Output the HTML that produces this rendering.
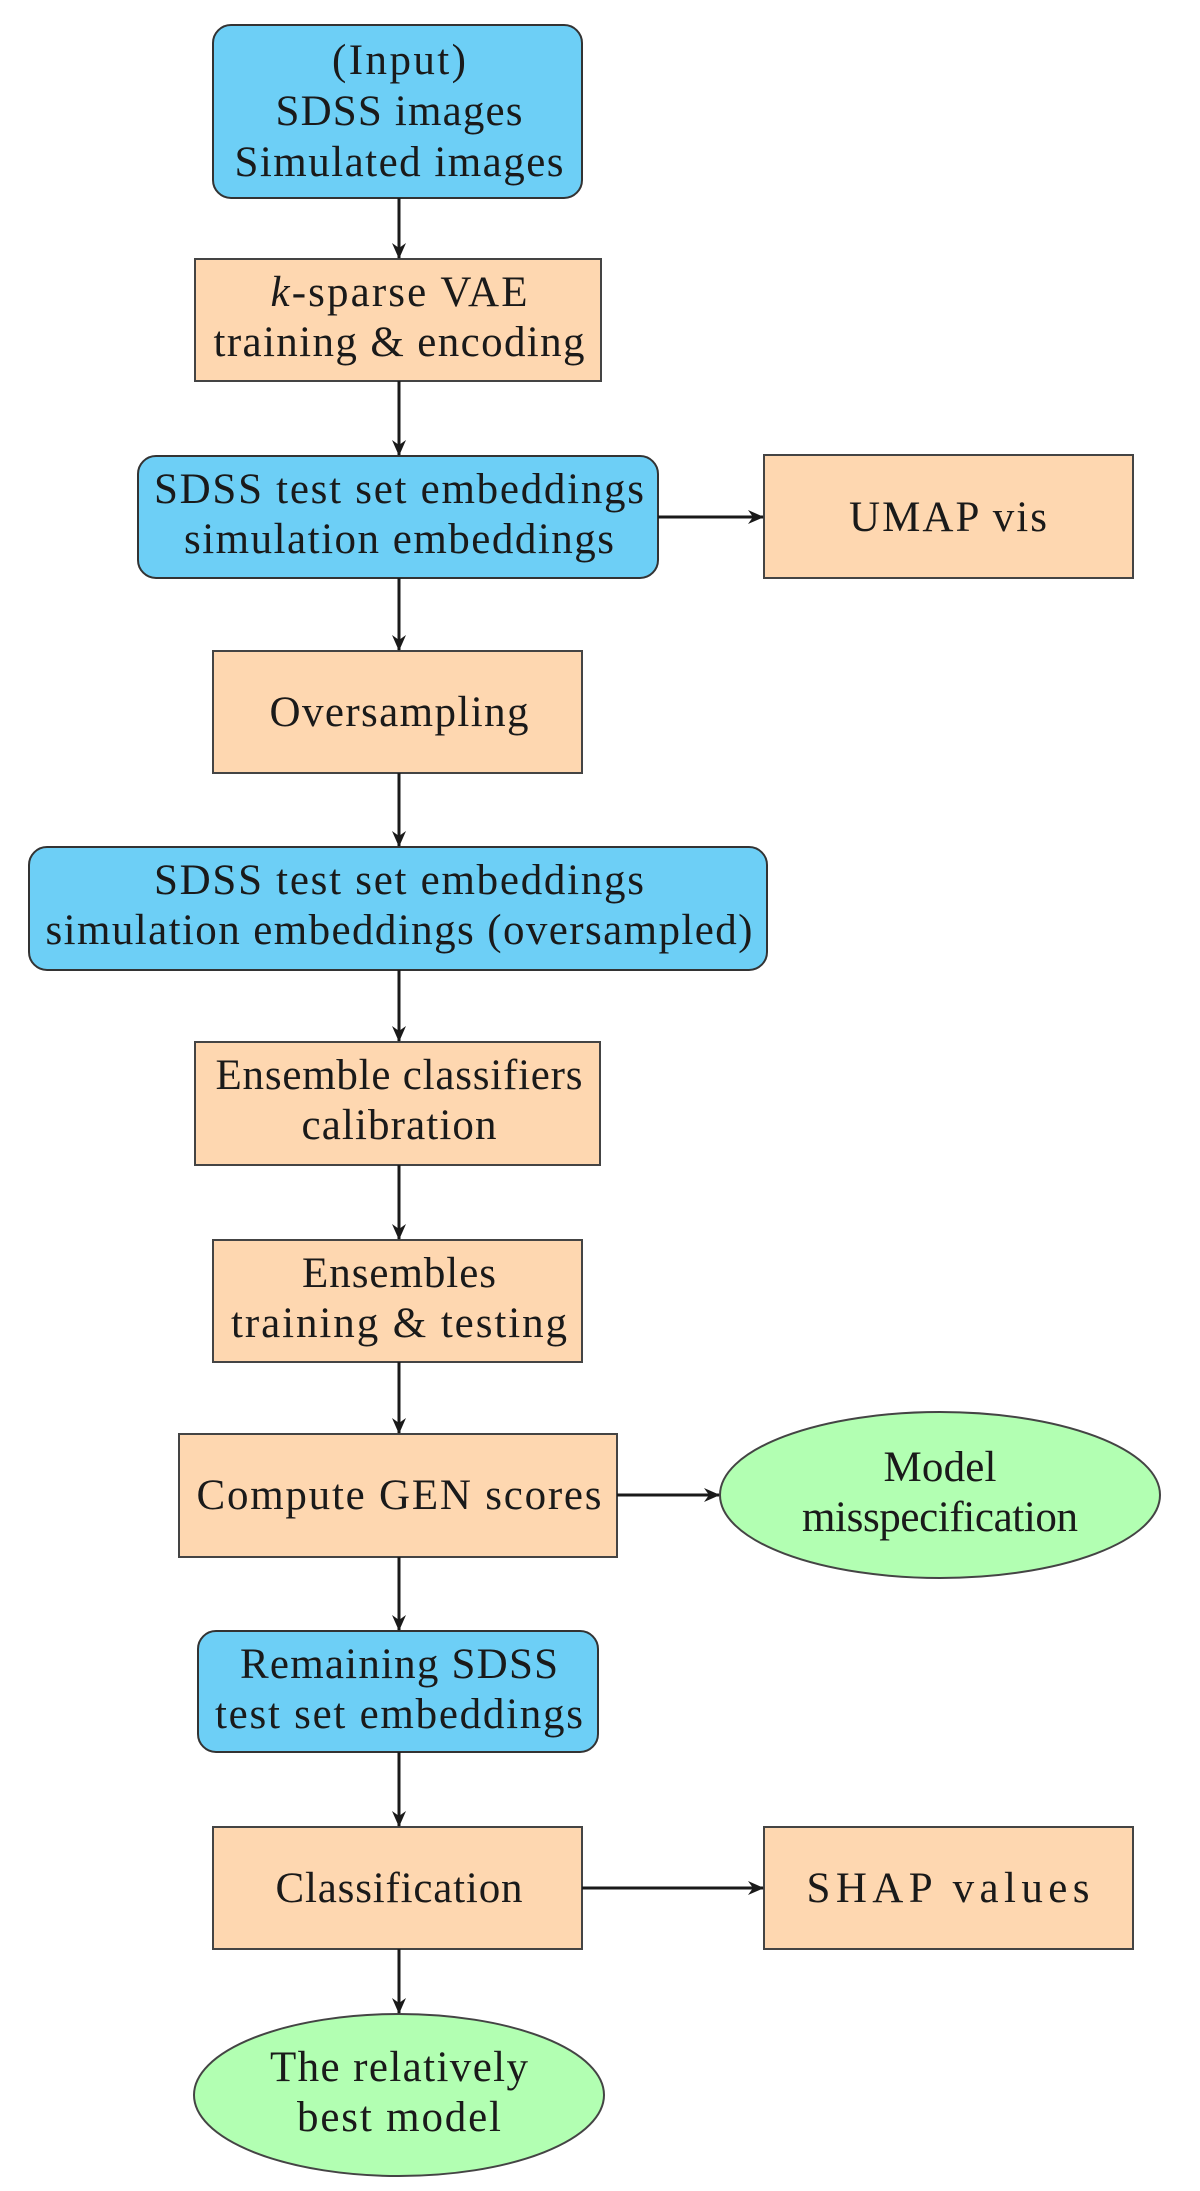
<!DOCTYPE html>
<html><head><meta charset="utf-8"><style>
html,body{margin:0;padding:0;background:#fff}
svg{display:block}
text{font-family:"Liberation Serif",serif;font-size:43px;fill:#1a1a1a;text-anchor:middle}
.b{fill:#6dcff6;stroke:#333;stroke-width:2}
.o{fill:#fed7b0;stroke:#444;stroke-width:2}
.g{fill:#b2ffb2;stroke:#444;stroke-width:2}
.l{stroke:#1a1a1a;stroke-width:3;fill:none}
</style></head><body>
<svg width="1200" height="2191" viewBox="0 0 1200 2191" xmlns="http://www.w3.org/2000/svg">
<defs><marker id="a" markerWidth="16" markerHeight="16" refX="15" refY="8" orient="auto" markerUnits="userSpaceOnUse"><path d="M0,1 L16,8 L0,15 L5,8 Z" fill="#1a1a1a"/></marker></defs>

<rect class="b" x="213" y="25" width="369" height="173" rx="18"/>
<text x="399" y="74" textLength="134">(Input)</text>
<text x="399" y="125" textLength="247">SDSS images</text>
<text x="399" y="176" textLength="329">Simulated images</text>

<rect class="o" x="195" y="259" width="406" height="122"/>
<text x="399" y="306" textLength="257"><tspan font-style="italic">k</tspan>-sparse VAE</text>
<text x="399" y="356" textLength="371">training &amp; encoding</text>

<rect class="b" x="138" y="456" width="520" height="122" rx="18"/>
<text x="399" y="503" textLength="490">SDSS test set embeddings</text>
<text x="399" y="553" textLength="430">simulation embeddings</text>

<rect class="o" x="764" y="455" width="369" height="123"/>
<text x="948" y="531" textLength="198">UMAP vis</text>

<rect class="o" x="213" y="651" width="369" height="122"/>
<text x="399" y="726" textLength="259">Oversampling</text>

<rect class="b" x="29" y="847" width="738" height="123" rx="18"/>
<text x="399" y="894" textLength="490">SDSS test set embeddings</text>
<text x="399" y="944" textLength="707">simulation embeddings (oversampled)</text>

<rect class="o" x="195" y="1042" width="405" height="123"/>
<text x="399" y="1089" textLength="367">Ensemble classifiers</text>
<text x="399" y="1139" textLength="195">calibration</text>

<rect class="o" x="213" y="1240" width="369" height="122"/>
<text x="399" y="1287" textLength="194">Ensembles</text>
<text x="399" y="1337" textLength="336">training &amp; testing</text>

<rect class="o" x="179" y="1434" width="438" height="123"/>
<text x="399" y="1509" textLength="405">Compute GEN scores</text>

<ellipse class="g" cx="940" cy="1495" rx="220" ry="83"/>
<text x="940" y="1481" textLength="113">Model</text>
<text x="940" y="1531" textLength="276">misspecification</text>

<rect class="b" x="198" y="1631" width="400" height="121" rx="18"/>
<text x="399" y="1678" textLength="318">Remaining SDSS</text>
<text x="399" y="1728" textLength="368">test set embeddings</text>

<rect class="o" x="213" y="1827" width="369" height="122"/>
<text x="399" y="1902" textLength="247">Classification</text>

<rect class="o" x="764" y="1827" width="369" height="122"/>
<text x="948" y="1902" textLength="283">SHAP values</text>

<ellipse class="g" cx="399" cy="2095" rx="205" ry="81"/>
<text x="399" y="2081" textLength="258">The relatively</text>
<text x="399" y="2131" textLength="204">best model</text>

<line class="l" x1="399" y1="198" x2="399" y2="258" marker-end="url(#a)"/>
<line class="l" x1="399" y1="381" x2="399" y2="455" marker-end="url(#a)"/>
<line class="l" x1="399" y1="578" x2="399" y2="650" marker-end="url(#a)"/>
<line class="l" x1="399" y1="773" x2="399" y2="846" marker-end="url(#a)"/>
<line class="l" x1="399" y1="970" x2="399" y2="1041" marker-end="url(#a)"/>
<line class="l" x1="399" y1="1165" x2="399" y2="1239" marker-end="url(#a)"/>
<line class="l" x1="399" y1="1362" x2="399" y2="1433" marker-end="url(#a)"/>
<line class="l" x1="399" y1="1557" x2="399" y2="1630" marker-end="url(#a)"/>
<line class="l" x1="399" y1="1752" x2="399" y2="1826" marker-end="url(#a)"/>
<line class="l" x1="399" y1="1949" x2="399" y2="2013" marker-end="url(#a)"/>
<line class="l" x1="658" y1="517" x2="763" y2="517" marker-end="url(#a)"/>
<line class="l" x1="617" y1="1495" x2="719" y2="1495" marker-end="url(#a)"/>
<line class="l" x1="582" y1="1888" x2="763" y2="1888" marker-end="url(#a)"/>
</svg>
</body></html>
